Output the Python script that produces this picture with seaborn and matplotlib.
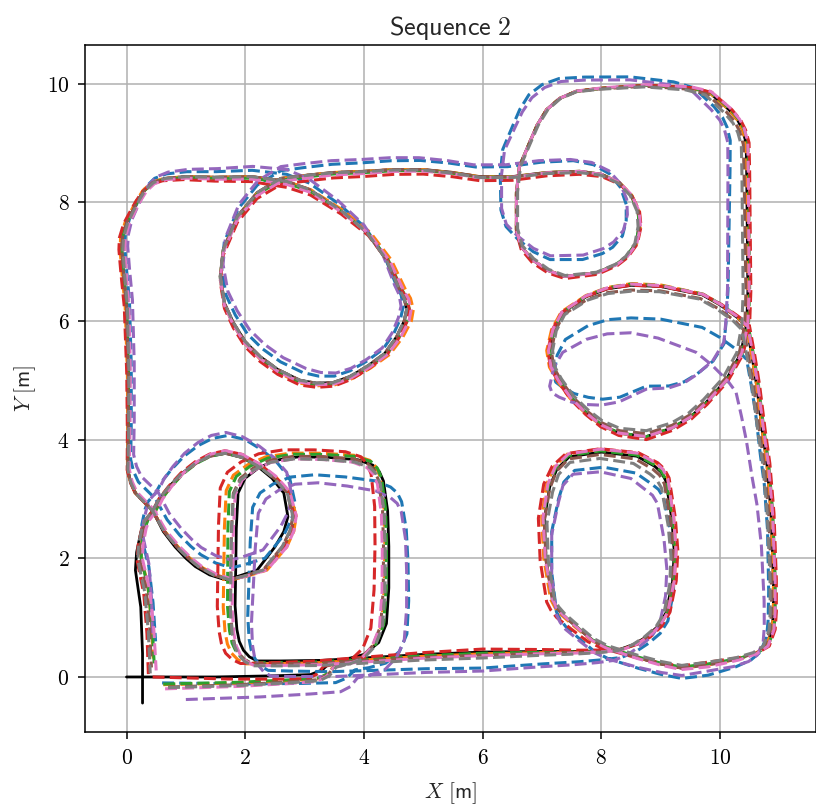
import numpy as np
import pandas as pd
import matplotlib
matplotlib.use("Agg")
import matplotlib.pyplot as plt
from matplotlib.ticker import FuncFormatter, MultipleLocator
import seaborn as sns

bottom_first = [(0.0, 0.0), (0.6, 0.0), (1.5, 0.0), (2.5, 0.02), (3.1, 0.04), (3.3, 0.12), (3.45, 0.26),
                (3.7, 0.3), (4.0, 0.38)]
mid_right = [(4.25, 0.58), (4.38, 0.9), (4.42, 1.5), (4.42, 2.2), (4.4, 2.8), (4.33, 3.3), (4.26, 3.46)]
mid_top = [(4.15, 3.57), (3.9, 3.66), (3.4, 3.7), (2.9, 3.71), (2.5, 3.65), (2.22, 3.52)]
stem = [(2.0, 3.35), (1.88, 3.1), (1.85, 2.5), (1.84, 1.8), (1.83, 1.2), (1.86, 0.8), (1.9, 0.6)]
bottom_second = [(1.97, 0.45), (2.07, 0.34), (2.2, 0.27), (2.6, 0.27), (3.3, 0.28), (4.0, 0.32), (5.0, 0.38)]
bottom_mid = [(6.0, 0.42), (7.0, 0.43), (7.6, 0.43), (8.0, 0.44), (8.3, 0.46), (8.55, 0.55)]
br_right = [(8.75, 0.67), (8.95, 0.85), (9.09, 1.08), (9.2, 1.6), (9.23, 2.1), (9.19, 2.65), (9.09, 3.3),
            (9.01, 3.45)]
br_top = [(8.9, 3.55), (8.6, 3.72), (8.0, 3.79), (7.46, 3.71), (7.25, 3.5)]
br_left = [(7.13, 3.2), (7.04, 2.65), (7.07, 1.97), (7.18, 1.3), (7.25, 1.17)]
bottom_end = [(7.35, 1.05), (7.6, 0.83), (7.85, 0.62), (8.08, 0.5), (8.6, 0.33), (9.0, 0.22), (9.35, 0.15)]
corner = [(9.8, 0.2), (10.3, 0.3), (10.6, 0.4)]
right_low = [(10.78, 0.52), (10.88, 0.8), (10.9, 1.1), (10.9, 1.64), (10.86, 2.76), (10.79, 3.6),
             (10.71, 4.17), (10.62, 4.9), (10.54, 5.4)]
ell_top = [(10.45, 5.9), (10.3, 6.05), (10.0, 6.27), (9.7, 6.44), (9.0, 6.58)]
ell_left = [(8.5, 6.6), (8.1, 6.54), (7.75, 6.41), (7.35, 6.14), (7.2, 5.85)]
ell_bottom = [(7.13, 5.5), (7.17, 5.22), (7.29, 5.0), (7.5, 4.7), (7.75, 4.45), (8.0, 4.25), (8.3, 4.11)]
ell_right = [(8.76, 4.05), (9.2, 4.2), (9.5, 4.38), (9.76, 4.62), (10.1, 5.0), (10.35, 5.45)]
right_high = [(10.45, 5.95), (10.47, 6.5), (10.46, 7.5), (10.45, 8.5), (10.44, 9.0), (10.38, 9.22), (10.3, 9.38)]
tr_top = [(10.15, 9.56), (9.82, 9.85), (9.48, 9.93), (8.76, 9.97), (8.0, 9.92), (7.58, 9.87), (7.3, 9.75)]
tr_left = [(7.08, 9.56), (6.92, 9.3), (6.79, 9.0), (6.62, 8.6), (6.57, 8.16), (6.57, 7.54), (6.65, 7.25)]
loop_bottom = [(6.84, 7.03), (7.1, 6.85), (7.38, 6.75), (7.92, 6.81), (8.25, 6.95), (8.42, 7.08), (8.58, 7.3)]
loop_top = [(8.64, 7.59), (8.62, 7.85), (8.5, 8.12), (8.3, 8.33), (8.0, 8.47)]
top_line = [(7.63, 8.52), (7.08, 8.5), (6.5, 8.43), (5.95, 8.43), (5.5, 8.5), (5.0, 8.55), (4.5, 8.55),
            (4.0, 8.52), (3.48, 8.5), (3.0, 8.45)]
circ_left = [(2.6, 8.4), (2.2, 8.16), (1.87, 7.76), (1.63, 7.2), (1.58, 6.75), (1.65, 6.3), (1.8, 5.97),
             (2.0, 5.65), (2.25, 5.4), (2.55, 5.18)]
circ_bottom = [(2.92, 5.0), (3.2, 4.95), (3.48, 4.96), (3.76, 5.06), (4.05, 5.23), (4.35, 5.45), (4.55, 5.73)]
circ_right = [(4.68, 6.0), (4.72, 6.19), (4.68, 6.38), (4.6, 6.53), (4.38, 7.03), (4.05, 7.49), (3.6, 7.87),
              (3.09, 8.21)]
top_left = [(2.7, 8.35), (2.11, 8.43), (1.5, 8.42), (0.99, 8.43), (0.64, 8.4), (0.44, 8.33), (0.3, 8.2),
            (0.2, 8.04), (0.1, 7.85), (0.0, 7.65)]
left_side = [(-0.07, 7.4), (-0.08, 7.2), (-0.05, 6.8), (0.0, 6.24), (0.03, 5.12), (0.03, 4.11), (0.02, 3.49),
             (0.07, 3.28), (0.15, 3.1)]
bl_low = [(0.44, 2.8), (0.62, 2.45), (0.82, 2.19), (1.0, 2.0), (1.16, 1.86), (1.4, 1.72), (1.66, 1.64),
          (1.86, 1.69), (2.2, 1.8)]
bl_right = [(2.5, 2.19), (2.65, 2.45), (2.72, 2.7), (2.65, 3.1), (2.45, 3.35), (2.22, 3.54)]
bl_top = [(1.95, 3.7), (1.66, 3.77), (1.4, 3.72), (1.16, 3.6), (0.92, 3.42), (0.71, 3.2), (0.55, 3.0)]
descent = [(0.44, 2.8), (0.3, 2.6), (0.24, 2.43), (0.17, 2.1), (0.15, 1.8), (0.24, 1.18), (0.27, 0.4),
           (0.27, -0.44)]

route_segments = [bottom_first, mid_right, mid_top, stem, bottom_second, bottom_mid, br_right, br_top,
                  br_left, bottom_end, corner, right_low, ell_top, ell_left, ell_bottom, ell_right,
                  right_high, tr_top, tr_left, loop_bottom, loop_top, top_line, circ_left, circ_bottom,
                  circ_right, top_left, left_side, bl_low, bl_right, bl_top, descent]
gt_hidden = [corner]  # no ground truth recorded here

# estimated trajectories: deviation from ground truth at the start of each segment (+ end point)
blue_dx = [0.6, 0.35, 0.3, 0.25, 0.2, 0.0, 0.05, -0.05, 0.15, 0.05, 0.0, -0.1, 0.0, 0.0, 0.07, 0.0,
           -0.35, -0.25, -0.3, -0.25, -0.22, -0.1, 0.0, 0.05, -0.06, 0.0, 0.05, 0.05, 0.15, 0.05, 0.05, 0.22]
blue_dy = [-0.1, -0.15, -0.37, -0.25, -0.15, -0.27, -0.1, -0.3, -0.2, -0.2, -0.17, -0.1, -0.55, -0.55, -0.4, 0.85,
           0.0, 0.05, 0.25, 0.35, 0.1, 0.18, 0.13, 0.13, 0.05, 0.12, 0.05, 0.2, 0.2, 0.3, 0.3, 1.04]
orange_dx = [0.62, -0.09, -0.05, -0.2, -0.2, 0.0, 0.03, 0.03, -0.05, -0.03, 0.0, 0.0, 0.0, 0.02, -0.05, 0.0,
             0.0, 0.0, 0.0, 0.0, 0.02, 0.0, 0.0, 0.0, 0.12, 0.0, -0.03, 0.0, 0.2, 0.0, 0.05, 0.18]
orange_dy = [-0.13, -0.05, 0.08, 0.05, -0.05, -0.03, 0.0, 0.05, 0.05, 0.0, 0.0, 0.0, 0.0, 0.03, 0.0, 0.0,
             0.0, 0.0, 0.0, 0.0, 0.0, 0.0, 0.0, -0.05, 0.0, 0.0, 0.0, 0.0, 0.0, 0.03, 0.0, 0.75]
green_dx = [0.62, -0.05, -0.03, -0.15, -0.12, 0.0, 0.02, 0.0, -0.02, 0.0, 0.0, 0.03, 0.03, 0.0, 0.0, 0.0,
            0.03, 0.03, 0.0, 0.0, 0.0, 0.0, 0.0, 0.0, 0.05, 0.0, 0.0, 0.0, 0.15, 0.0, 0.05, 0.2]
green_dy = [-0.12, -0.03, 0.06, 0.03, -0.03, -0.02, 0.0, 0.02, 0.02, 0.0, 0.02, 0.0, 0.0, 0.02, 0.0, 0.0,
            0.0, 0.0, 0.0, 0.0, 0.0, 0.0, -0.03, -0.03, 0.0, -0.03, 0.0, 0.0, 0.0, 0.0, 0.0, 0.6]
red_dx = [0.44, -0.27, -0.2, -0.3, -0.3, 0.0, 0.07, 0.05, -0.1, -0.1, 0.0, 0.05, 0.05, 0.0, -0.03, 0.0,
          0.05, 0.05, 0.0, 0.0, 0.03, 0.0, 0.0, 0.0, 0.05, 0.0, -0.05, 0.0, 0.15, 0.0, 0.0, 0.1]
red_dy = [0.0, -0.1, 0.14, 0.1, -0.05, 0.05, 0.0, 0.06, 0.05, -0.05, 0.05, 0.0, 0.0, 0.0, 0.0, -0.05,
          0.0, 0.0, 0.0, -0.05, 0.0, -0.05, -0.1, -0.08, 0.0, -0.1, 0.0, 0.0, 0.0, 0.05, 0.0, 0.44]
purple_dx = [1.0, 0.3, 0.3, 0.35, 0.25, 0.0, -0.1, -0.15, 0.15, 0.05, 0.0, -0.15, -0.18, 0.0, 0.0, 0.0,
             -0.35, -0.3, -0.25, -0.25, -0.2, -0.15, 0.0, 0.1, -0.1, 0.0, 0.1, 0.1, 0.1, 0.0, 0.1, 0.17]
purple_dy = [-0.38, -0.25, -0.55, -0.35, -0.25, -0.32, -0.15, -0.4, -0.25, -0.25, -0.1, -0.15, -1.1, -0.8, -0.6, 0.8,
             0.05, 0.0, 0.2, 0.4, 0.2, 0.2, 0.2, 0.2, 0.05, 0.2, 0.05, 0.3, 0.35, 0.35, 0.35, 1.1]
brown_dx = [0.7, -0.1, -0.08, -0.08, -0.08, 0.0, 0.0, -0.03, 0.0, 0.0, 0.0, -0.03, -0.05, 0.0, 0.03, 0.0,
            -0.03, -0.05, 0.0, 0.0, 0.0, 0.0, 0.0, 0.0, 0.0, 0.0, 0.0, 0.0, 0.12, 0.0, 0.03, 0.15]
brown_dy = [-0.17, -0.05, 0.02, 0.0, -0.05, -0.05, 0.0, -0.05, -0.03, 0.0, 0.0, 0.0, -0.05, -0.08, 0.0, 0.05,
            0.0, -0.03, 0.0, 0.0, 0.0, 0.0, 0.0, 0.0, 0.0, 0.0, 0.0, 0.0, 0.0, 0.0, 0.0, 0.6]
pink_dx = [0.65, -0.12, -0.1, -0.05, -0.05, 0.0, 0.03, 0.03, -0.03, 0.0, 0.0, 0.03, 0.02, 0.0, -0.02, 0.0,
           0.02, 0.03, 0.0, 0.0, 0.02, 0.0, 0.0, 0.0, 0.08, 0.0, 0.05, 0.02, 0.2, 0.0, 0.07, 0.23]
pink_dy = [-0.2, -0.08, -0.04, -0.03, -0.08, -0.06, 0.0, 0.05, 0.05, 0.0, -0.03, 0.0, 0.0, 0.02, 0.0, 0.0,
           0.0, 0.02, 0.0, 0.0, 0.0, 0.0, -0.05, -0.03, 0.0, -0.05, 0.0, 0.02, 0.0, 0.05, 0.0, 0.55]
gray_dx = [0.7, -0.07, -0.05, -0.08, -0.08, 0.0, -0.03, -0.08, 0.05, 0.03, 0.0, -0.05, -0.08, 0.0, 0.05, 0.0,
           -0.08, -0.08, 0.02, 0.02, -0.02, 0.0, 0.0, 0.0, 0.0, 0.0, 0.02, 0.0, 0.12, 0.0, 0.0, 0.13]
gray_dy = [-0.18, -0.07, -0.04, -0.03, -0.08, -0.1, 0.0, -0.13, -0.08, 0.02, 0.05, 0.0, -0.05, -0.1, 0.0, 0.1,
           0.0, -0.05, 0.0, 0.02, 0.0, -0.02, 0.0, 0.0, 0.0, 0.0, 0.0, 0.0, 0.0, 0.0, 0.0, 0.5]

estimates = [
    ("tab:blue", blue_dx, blue_dy),
    ("tab:orange", orange_dx, orange_dy),
    ("tab:green", green_dx, green_dy),
    ("tab:red", red_dx, red_dy),
    ("tab:purple", purple_dx, purple_dy),
    ("tab:brown", brown_dx, brown_dy),
    ("tab:pink", pink_dx, pink_dy),
    ("tab:gray", gray_dx, gray_dy),
]


def build_route():
    """Concatenate the segments, remember segment starts and black-line parts."""
    xs, ys, parts, anchors = [], [], [], []
    part = 0
    for seg in route_segments:
        anchors.append(len(xs))
        hidden = any(seg is h for h in gt_hidden)
        if hidden:
            part += 1
        for px, py in seg:
            xs.append(px)
            ys.append(py)
            parts.append(-1 if hidden else part)
        if hidden:
            part += 1
    anchors.append(len(xs) - 1)
    df = pd.DataFrame({"x": xs, "y": ys, "part": parts})
    steps = np.hypot(np.diff(df["x"]), np.diff(df["y"]))
    df["s"] = np.concatenate([[0.0], np.cumsum(steps)])
    return df, anchors


def main():
    sns.set_style("ticks")
    plt.rcParams["mathtext.fontset"] = "cm"
    plt.rcParams["axes.linewidth"] = 1.1
    plt.rcParams["xtick.major.width"] = 1.1
    plt.rcParams["ytick.major.width"] = 1.1
    plt.rcParams["xtick.major.size"] = 4.8
    plt.rcParams["ytick.major.size"] = 4.8

    route, anchors = build_route()
    s_anchor = route["s"].values[anchors]

    fig = plt.figure(figsize=(8.16, 8.05), dpi=100)
    ax = fig.add_axes([0.1042, 0.0907, 0.8958, 0.8534])
    ax.set_axisbelow(True)
    ax.grid(True, color="#b0b0b0", linewidth=1.1)

    # ground truth
    gt = route[route["part"] >= 0]
    sns.lineplot(data=gt, x="x", y="y", units="part", estimator=None, sort=False,
                 color="black", linewidth=2.0, ax=ax)

    # estimates
    for color, dx, dy in estimates:
        ex = route["x"] + np.interp(route["s"], s_anchor, dx)
        ey = route["y"] + np.interp(route["s"], s_anchor, dy)
        sns.lineplot(x=ex.values, y=ey.values, estimator=None, sort=False,
                     color=color, linestyle=(0, (3.9, 1.7)), linewidth=2.2, ax=ax)

    ax.set_xlim(-0.699, 11.618)
    ax.set_ylim(-0.927, 10.649)
    ax.xaxis.set_major_locator(MultipleLocator(2))
    ax.yaxis.set_major_locator(MultipleLocator(2))
    fmt = FuncFormatter(lambda v, p: f"${v:g}$")
    ax.xaxis.set_major_formatter(fmt)
    ax.yaxis.set_major_formatter(fmt)
    ax.tick_params(labelsize=15.5, colors="black", pad=6.5)
    for side in ["top", "right", "left", "bottom"]:
        ax.spines[side].set_visible(True)
        ax.spines[side].set_color("black")

    ax.set_title(r"$\mathsf{Sequence\ 2}$", fontsize=18.8, pad=7)
    ax.set_xlabel(r"$X\ \mathsf{[m]}$", fontsize=15.5, labelpad=9)
    ax.set_ylabel(r"$Y\ \mathsf{[m]}$", fontsize=15.5, labelpad=6)

    fig.savefig("out.png", dpi=100)


if __name__ == "__main__":
    main()
